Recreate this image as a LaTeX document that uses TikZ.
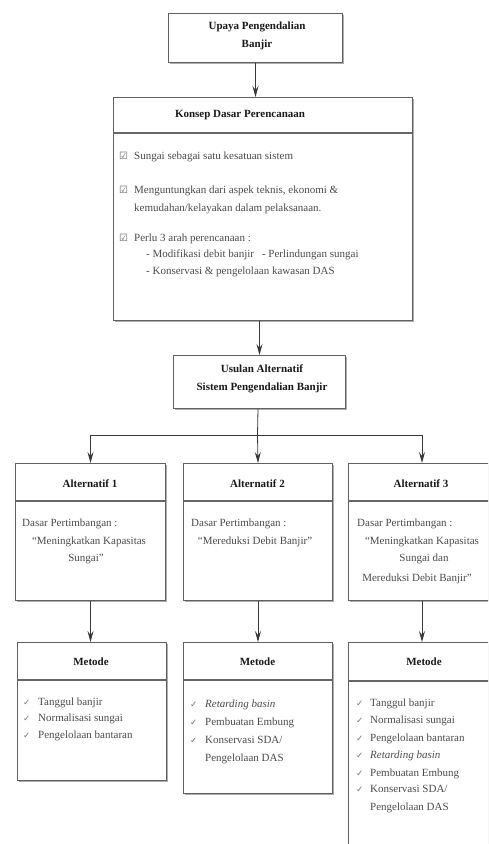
\documentclass[tikz,border=0pt]{standalone}
\usepackage{fontspec}
\setmainfont{Liberation Serif}
\newfontfamily\symfont{DejaVu Sans}
\usetikzlibrary{arrows.meta,shadows}
\begin{document}
\begin{tikzpicture}[x=1pt,y=-1pt,
  box/.style={draw=black!62, line width=1pt, fill=white, anchor=north west, inner sep=0pt,
    drop shadow={shadow xshift=1.8pt, shadow yshift=-1.8pt, fill=black!40, opacity=0.8}},
  sep/.style={draw=black!60, line width=2.4pt},
  hdr/.style={font=\fontsize{11}{18}\selectfont\bfseries, align=center, inner sep=0pt, text=black!90},
  txt/.style={anchor=base west, inner sep=0pt, font=\fontsize{11}{13}\selectfont, text=black!70},
  ctxt/.style={anchor=base, inner sep=0pt, font=\fontsize{11}{13}\selectfont, text=black!70},
  chk/.style={anchor=base west, inner sep=0pt, font=\symfont\fontsize{10}{12}\selectfont, text=black!60},
  tick/.style={anchor=base west, inner sep=0pt, font=\symfont\fontsize{8.5}{10}\selectfont, text=black!55},
  arr/.style={draw=black!78, line width=0.8pt, -{Stealth[length=11pt,width=6pt,inset=4pt]}},
  ln/.style={draw=black!78, line width=0.8pt}]
\clip (0,0) rectangle (488,844);
\fill[white] (0,0) rectangle (488,844);

% boxes
\node[box, minimum width=174pt, minimum height=49pt] (top) at (168,13) {};
\node[box, minimum width=299pt, minimum height=223pt] (konsep) at (113,97) {};
\node[box, minimum width=172pt, minimum height=53pt] (usulan) at (173,355) {};
\node[box, minimum width=150pt, minimum height=137pt] (alt1) at (15,463) {};
\node[box, minimum width=149pt, minimum height=137pt] (alt2) at (183,463) {};
\node[box, minimum width=147pt, minimum height=137pt] (alt3) at (348,463) {};
\node[box, minimum width=149pt, minimum height=138pt] (met1) at (17,642) {};
\node[box, minimum width=149pt, minimum height=151pt] (met2) at (183,642) {};
\node[box, minimum width=147pt, minimum height=240pt] (met3) at (348,642) {};

% header separators
\draw[sep] (113,133) -- (412,133);
\draw[sep] (15,501) -- (165,501);
\draw[sep] (183,501) -- (332,501);
\draw[sep] (348,501) -- (495,501);
\draw[sep] (17,680) -- (166,680);
\draw[sep] (183,680) -- (332,680);
\draw[sep] (348,681) -- (495,681);

% headers
\node[hdr] (toptxt) at (257,36) {Upaya Pengendalian\\Banjir};
\node[hdr] (konseptxt) at (240,115) {Konsep Dasar Perencanaan};
\node[hdr] (usultxt) at (262,379) {Usulan Alternatif\\Sistem Pengendalian Banjir};
\node[hdr] (a1txt) at (90,484) {Alternatif 1};
\node[hdr] (a2txt) at (257.5,484) {Alternatif 2};
\node[hdr] (a3txt) at (421,484) {Alternatif 3};
\node[hdr] (m1txt) at (91,662) {Metode};
\node[hdr] (m2txt) at (257.5,662) {Metode};
\node[hdr] (m3txt) at (424,662) {Metode};

% konsep content
\node[chk] (c1) at (119,159) {☑};
\node[txt] (k1) at (134,159) {Sungai sebagai satu kesatuan sistem};
\node[chk] (c2) at (119,193) {☑};
\node[txt] (k2) at (134,193) {Menguntungkan dari aspek teknis, ekonomi \&};
\node[txt] (k3) at (134,211) {kemudahan/kelayakan dalam pelaksanaan.};
\node[chk] (c3) at (119,241) {☑};
\node[txt] (k4) at (134,241) {Perlu 3 arah perencanaan :};
\node[txt] (k5) at (146,257) {- Modifikasi debit banjir\hspace{8pt}- Perlindungan sungai};
\node[txt] (k6) at (146,274) {- Konservasi \& pengelolaan kawasan DAS};

% alternatif content
\node[txt] (d1) at (22,526) {Dasar Pertimbangan :};
\node[ctxt] (q1a) at (89,544) {“Meningkatkan Kapasitas};
\node[ctxt] (q1b) at (86,561) {Sungai”};
\node[txt] (d2) at (191,526) {Dasar Pertimbangan :};
\node[ctxt] (q2a) at (255,544) {“Mereduksi Debit Banjir”};
\node[txt] (d3) at (357,526) {Dasar Pertimbangan :};
\node[ctxt] (q3a) at (422,544) {“Meningkatkan Kapasitas};
\node[ctxt] (q3b) at (424,561) {Sungai dan};
\node[ctxt] (q3c) at (417,581) {Mereduksi Debit Banjir”};

% metode 1
\node[tick] (t11) at (23,705) {✓}; \node[txt] (m11) at (38,705) {Tanggul banjir};
\node[tick] (t12) at (23,721) {✓}; \node[txt] (m12) at (38,721) {Normalisasi sungai};
\node[tick] (t13) at (23,738) {✓}; \node[txt] (m13) at (38,738) {Pengelolaan bantaran};
% metode 2
\node[tick] (t21) at (190,707) {✓}; \node[txt] (m21) at (205,707) {\textit{Retarding basin}};
\node[tick] (t22) at (190,725) {✓}; \node[txt] (m22) at (205,725) {Pembuatan Embung};
\node[tick] (t23) at (190,743) {✓}; \node[txt] (m23) at (205,743) {Konservasi SDA/};
\node[txt] (m24) at (205,761) {Pengelolaan DAS};
% metode 3
\node[tick] (t31) at (356,706) {✓}; \node[txt] (m31) at (370,706) {Tanggul banjir};
\node[tick] (t32) at (356,723) {✓}; \node[txt] (m32) at (370,723) {Normalisasi sungai};
\node[tick] (t33) at (356,741) {✓}; \node[txt] (m33) at (370,741) {Pengelolaan bantaran};
\node[tick] (t34) at (356,758) {✓}; \node[txt] (m34) at (370,758) {\textit{Retarding basin}};
\node[tick] (t35) at (356,776) {✓}; \node[txt] (m35) at (370,776) {Pembuatan Embung};
\node[tick] (t36) at (356,792) {✓}; \node[txt] (m36) at (370,792) {Konservasi SDA/};
\node[txt] (m37) at (370,810) {Pengelolaan DAS};

% connectors
\draw[arr] (top.south) -- (top.south |- konsep.north);
\draw[arr] (usulan.north |- konsep.south) -- (usulan.north);
\coordinate (bus) at (257.5,435);
\draw[ln] (usulan.south -| alt2.north) -- (bus);
\draw[ln] (alt1.north |- bus) -- (alt3.north |- bus);
\draw[arr] (alt1.north |- bus) -- (alt1.north);
\draw[arr] (bus) -- (alt2.north);
\draw[arr] (alt3.north |- bus) -- (alt3.north);
\draw[arr] (alt1.south) -- (alt1.south |- met1.north);
\draw[arr] (alt2.south) -- (alt2.south |- met2.north);
\draw[arr] (alt3.south) -- (alt3.south |- met3.north);
\end{tikzpicture}
\end{document}
